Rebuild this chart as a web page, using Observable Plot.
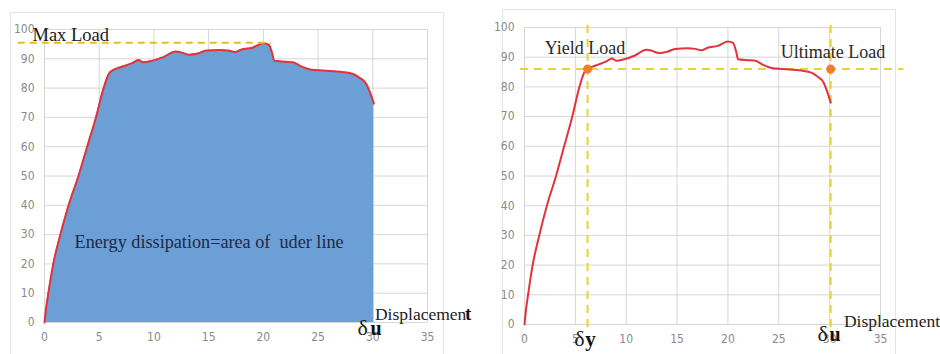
<!DOCTYPE html>
<html><head><meta charset="utf-8">
<script src="https://cdn.jsdelivr.net/npm/d3@7"></script>
<script src="https://cdn.jsdelivr.net/npm/@observablehq/plot@0.6"></script>
<style>
html,body{margin:0;padding:0;background:#fff;width:940px;height:354px;overflow:hidden;}
#wrap{position:relative;width:940px;height:354px;}
.box{position:absolute;border:1px solid #e4e4e4;box-sizing:border-box;}
#left{position:absolute;left:0;top:0;}
#right{position:absolute;left:470px;top:0;}
svg{overflow:visible;}
</style></head>
<body><div id="wrap">
<div class="box" style="left:10px;top:12px;width:434px;height:350px;"></div>
<div class="box" style="left:502px;top:9px;width:394px;height:350px;"></div>
<div id="left"></div><div id="right"></div>
</div>
<script>
// Load–displacement curve
const displacement = [0,0.15,0.35,0.8,1.45,2.2,3.1,3.9,4.7,5.4,5.9,6.2,7.0,8.0,8.6,9.0,9.8,10.8,12.0,12.5,13.2,14.0,14.8,16.0,16.8,17.4,18.0,19.0,20.0,20.5,20.8,21.0,22.0,22.7,23.4,24.4,25.5,27.2,28.2,28.8,29.4,29.8,30.1];
const load         = [0,5,10,20,30,40,50,60,70,80,85,86,87.2,88.5,89.6,88.8,89.3,90.5,92.5,92.2,91.4,91.8,92.8,93.0,92.8,92.3,93.2,93.8,95.3,94.8,92.0,89.3,89.0,88.8,87.5,86.3,86.0,85.5,84.8,83.5,81.5,78.0,74.7];
// Key values
const maxLoad = 95.5;
const yieldLoad = 86;
const yieldDisp = 6.2;
const ultimateDisp = 30.1;
// Tick labels
const xTicks = [0,5,10,15,20,25,30,35];
const yTicks = [0,10,20,30,40,50,60,70,80,90,100];

const curve = displacement.map((d,i)=>({x:d, y:load[i]}));
const red = "#E2333B";
const serif = "'Liberation Serif','Times New Roman',serif";
const axisFont = "'Liberation Sans Narrow','DejaVu Sans Condensed','Roboto Condensed','Liberation Sans',sans-serif";

function baseAxes() {
  return [
    Plot.gridX(xTicks, {stroke:"#d6d6d6", strokeOpacity:1}),
    Plot.gridY(yTicks, {stroke:"#d6d6d6", strokeOpacity:1}),
    Plot.axisX(xTicks, {tickSize:0, tickPadding:10, fill:"#8a8a8a", fontSize:12, label:null}),
    Plot.axisY(yTicks, {tickSize:0, tickPadding:10, fill:"#8a8a8a", fontSize:12, label:null})
  ];
}

const left = Plot.plot({
  width:460, height:354,
  marginLeft:44, marginRight:33, marginTop:29, marginBottom:32,
  x:{domain:[0,35]}, y:{domain:[0,100]},
  style:{fontFamily:axisFont, background:"transparent"},
  marks:[
    ...baseAxes(),
    Plot.areaY(curve, {x:"x", y:"y", fill:"#6C9FD5", fillOpacity:1, curve:"monotone-x"}),
    Plot.line(curve, {x:"x", y:"y", stroke:red, strokeWidth:2, curve:"monotone-x"}),
    Plot.ruleY([maxLoad], {x1:-2.4, x2:20.7, stroke:"#E9BC1E", strokeWidth:2, strokeDasharray:"7,5"}),
    Plot.text(["Max Load"], {x:-1.1, y:96.2, text:d=>d, textAnchor:"start", lineAnchor:"bottom", fontSize:18.5, fontFamily:serif, fill:"#1a1a1a"}),
    Plot.text(["Energy dissipation=area of  uder line"], {x:2.75, y:25.3, text:d=>d, textAnchor:"start", lineAnchor:"bottom", fontSize:18.2, fontFamily:serif, fill:"#1c2947"}),
    Plot.text(["Displacemen"], {x:30.2, y:0.9, text:d=>d, textAnchor:"start", lineAnchor:"bottom", fontSize:17.5, fontFamily:serif, fill:"#222"}),
    Plot.text(["t"], {x:30.2, y:0.9, dx:90, text:d=>d, textAnchor:"start", lineAnchor:"bottom", fontSize:19, fontWeight:"bold", fontFamily:serif, fill:"#111"}),
    Plot.text(["δ"], {x:28.6, y:-4.4, text:d=>d, textAnchor:"start", lineAnchor:"bottom", fontSize:22, fontFamily:serif, fill:"#222"}),
    Plot.text(["u"], {x:28.6, y:-4.4, dx:13, text:d=>d, textAnchor:"start", lineAnchor:"bottom", fontSize:20, fontWeight:"bold", fontFamily:serif, fill:"#111"})
  ]
});
document.getElementById("left").append(left);

const right = Plot.plot({
  width:470, height:354,
  marginLeft:54, marginRight:60, marginTop:27, marginBottom:30,
  x:{domain:[0,35]}, y:{domain:[0,100]},
  style:{fontFamily:axisFont, background:"transparent"},
  marks:[
    ...baseAxes(),
    Plot.ruleY([yieldLoad], {x1:-0.4, x2:37.3, stroke:"#E8D42E", strokeWidth:2, strokeDasharray:"8,6"}),
    Plot.ruleX([yieldDisp, ultimateDisp], {y1:-1, y2:100.7, stroke:"#E8D42E", strokeWidth:2, strokeDasharray:"8,6"}),
    Plot.line(curve, {x:"x", y:"y", stroke:red, strokeWidth:2, curve:"monotone-x"}),
    Plot.dot([[yieldDisp, yieldLoad],[ultimateDisp, yieldLoad]], {x:d=>d[0], y:d=>d[1], r:4.5, fill:"#EE7E2E", stroke:"none"}),
    Plot.text(["Yield Load"], {x:2.0, y:91.2, text:d=>d, textAnchor:"start", lineAnchor:"bottom", fontSize:18, fontFamily:serif, fill:"#2a2a2a"}),
    Plot.text(["Ultimate Load"], {x:25.2, y:89.6, text:d=>d, textAnchor:"start", lineAnchor:"bottom", fontSize:18, fontFamily:serif, fill:"#2a2a2a"}),
    Plot.text(["δ"], {x:4.9, y:-7.1, text:d=>d, textAnchor:"start", lineAnchor:"bottom", fontSize:22, fontFamily:serif, fill:"#222"}),
    Plot.text(["y"], {x:4.9, y:-7.1, dx:11, text:d=>d, textAnchor:"start", lineAnchor:"bottom", fontSize:21, fontWeight:"bold", fontFamily:serif, fill:"#111"}),
    Plot.text(["δ"], {x:28.8, y:-5.4, text:d=>d, textAnchor:"start", lineAnchor:"bottom", fontSize:22, fontFamily:serif, fill:"#222"}),
    Plot.text(["u"], {x:28.8, y:-5.4, dx:12, text:d=>d, textAnchor:"start", lineAnchor:"bottom", fontSize:20, fontWeight:"bold", fontFamily:serif, fill:"#111"}),
    Plot.text(["Displacement"], {x:31.4, y:-1, text:d=>d, textAnchor:"start", lineAnchor:"bottom", fontSize:17.5, fontFamily:serif, fill:"#222"})
  ]
});
document.getElementById("right").append(right);
</script>
</body></html>
